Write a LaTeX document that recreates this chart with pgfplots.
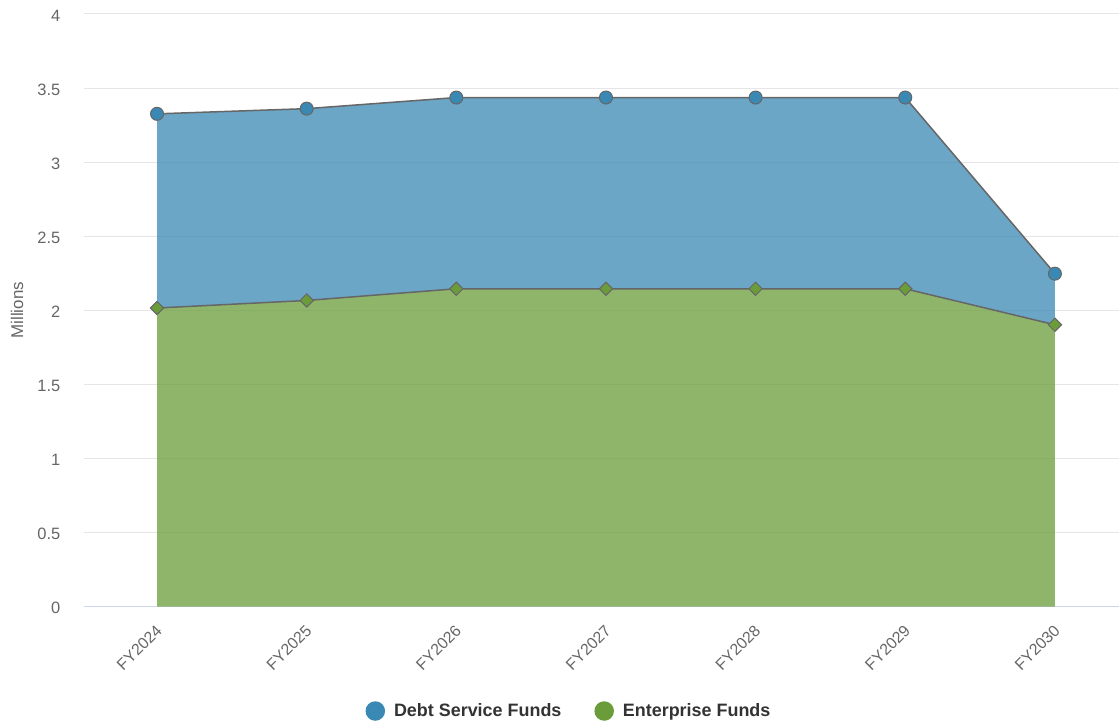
\documentclass[border=0pt]{standalone}
\usepackage{pgfplots}
\pgfplotsset{compat=1.18}
\usepackage{pgfplotstable}
\usepackage{fontspec}
\setmainfont{Liberation Sans}

\definecolor{debtblue}{HTML}{3A88B4}
\definecolor{entgreen}{HTML}{6A9C3A}
\definecolor{gridgray}{HTML}{E6E6E6}
\definecolor{axisblue}{HTML}{CCD6EB}
\definecolor{labelgray}{HTML}{666666}
\definecolor{legendtext}{HTML}{333333}

% Funding by fiscal year, in millions
\pgfplotstableread{
x enterprise debt
0 2.015 1.311
1 2.066 1.295
2 2.145 1.291
3 2.145 1.291
4 2.145 1.291
5 2.145 1.291
6 1.902 0.345
}\funds

\pgfplotsset{
  fundaxis/.style={
    scale only axis, width=1035bp, height=592.5bp,
    xmin=-0.488, xmax=6.428, ymin=0, ymax=4,
    at={(0,0)}, anchor=south west,
    stack plots=y,
  },
}

\begin{document}
\begin{tikzpicture}
\useasboundingbox (-84bp,-116.5bp) rectangle (1035bp,606.5bp);

% stacked areas, grid and tick labels
\begin{axis}[fundaxis,
  axis line style={draw=none},
  major tick length=0pt,
  ymajorgrids,
  grid style={gridgray, line width=1bp},
  ytick={0.5,1,...,4},
  extra y ticks={0},
  extra y tick style={grid style={axisblue, line width=1.5bp}},
  /pgf/number format/assume math mode=true,
  yticklabel style={font=\fontsize{16.5}{20}\selectfont, text=labelgray,
    anchor=east, inner sep=0pt, xshift=-23.5bp, yshift=-1.5bp},
  xtick={0,...,6},
  xticklabels={FY2024,FY2025,FY2026,FY2027,FY2028,FY2029,FY2030},
  xticklabel style={font=\fontsize{16}{20}\selectfont, text=labelgray,
    rotate=45, anchor=east, inner sep=0pt, xshift=-13.5bp, yshift=-16.5bp},
  ylabel={Millions},
  every axis y label/.style={at={(axis description cs:0,0.5)},
    xshift=-67bp, rotate=90, anchor=center,
    font=\fontsize{17}{20}\selectfont, text=labelgray},
]
\addplot[draw=none, fill=entgreen, fill opacity=0.75]
  table[x=x, y=enterprise]{\funds} \closedcycle;
\addplot[draw=none, fill=debtblue, fill opacity=0.75]
  table[x=x, y=debt]{\funds} \closedcycle;
\end{axis}

% outlines, markers and legend
\begin{axis}[fundaxis,
  hide axis,
  reverse legend,
  legend columns=2,
  legend style={at={(0.4686,-0.1764)}, anchor=center, draw=none, fill=none,
    font=\fontsize{18}{22}\selectfont\bfseries, text=legendtext,
    /tikz/every odd column/.append style={column sep=7bp},
    /tikz/every even column/.append style={column sep=31bp}},
]
\addplot[labelgray, line width=1.5bp, mark=square*, mark size=4.7bp,
  mark options={rotate=45, fill=entgreen, draw=labelgray, line width=1bp},
  legend image code/.code={\fill[entgreen] (9bp,0bp) circle (9bp);}]
  table[x=x, y=enterprise]{\funds};
\addlegendentry{Enterprise Funds}
\addplot[labelgray, line width=1.5bp, mark=*, mark size=6.5bp,
  mark options={fill=debtblue, draw=labelgray, line width=1bp},
  legend image code/.code={\fill[debtblue] (9bp,0bp) circle (9bp);}]
  table[x=x, y=debt]{\funds};
\addlegendentry{Debt Service Funds}
\end{axis}
\end{tikzpicture}
\end{document}
